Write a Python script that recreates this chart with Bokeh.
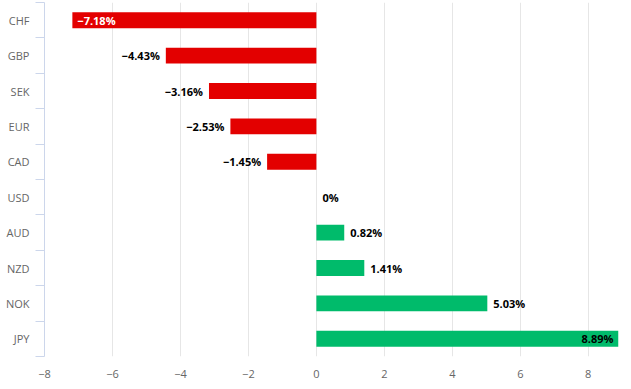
from bokeh.plotting import figure
from bokeh.models import ColumnDataSource, Range1d, FixedTicker
from bokeh.core.properties import value
from bokeh.embed import file_html
from bokeh.resources import INLINE

currencies = ["CHF", "GBP", "SEK", "EUR", "CAD", "USD", "AUD", "NZD", "NOK", "JPY"]
changes = [-7.18, -4.43, -3.16, -2.53, -1.45, 0, 0.82, 1.41, 5.03, 8.89]
x_ticks = [-8, -6, -4, -2, 0, 2, 4, 6, 8]

X_MIN, X_MAX = -8, 8.89
RED, GREEN = "#e30000", "#00bb6b"
FONT = "Open Sans"

n = len(currencies)
idx = list(range(n))


def fmt(v):
    s = f"{abs(v):.2f}".rstrip("0").rstrip(".") if v != 0 else "0"
    return ("\u2212" if v < 0 else "") + s + "%"


labels, aligns, offs, tcols = [], [], [], []
for v in changes:
    inside = (v - X_MIN) < 1.2 or (X_MAX - v) < 1.2
    labels.append(fmt(v))
    if v < 0:
        if inside:
            aligns.append("left"); offs.append(5); tcols.append("#ffffff")
        else:
            aligns.append("right"); offs.append(-6); tcols.append("#000000")
    else:
        if inside:
            aligns.append("right"); offs.append(-5); tcols.append("#000000")
        else:
            aligns.append("left"); offs.append(6); tcols.append("#000000")

src = ColumnDataSource(dict(
    idx=idx, value=changes, color=[RED if v < 0 else GREEN for v in changes],
    label=labels, align=aligns, xoff=offs, tcol=tcols,
))

p = figure(width=631, height=389, output_backend="svg", toolbar_location=None,
           x_range=Range1d(X_MIN, X_MAX), y_range=Range1d(n - 0.5, -0.5),
           min_border_left=44, min_border_right=13, min_border_top=2, min_border_bottom=33)
p.styles = {"position": "absolute", "left": "0px", "top": "0px"}
p.outline_line_color = None
p.background_fill_color = "#ffffff"

p.hbar(y="idx", left=0, right="value", height=0.45, color="color", line_color=None, source=src)
p.text(x="value", y="idx", text="label", text_align="align", x_offset="xoff",
       text_color="tcol",
       text_font=value(FONT), text_font_style="bold", text_font_size="11px",
       text_baseline="middle", source=src)

# y axis (categories)
p.yaxis.ticker = FixedTicker(ticks=idx, minor_ticks=[i - 0.5 for i in idx] + [n - 0.5])
p.yaxis.major_label_overrides = {i: c for i, c in zip(idx, currencies)}
p.yaxis.major_tick_out = 0
p.yaxis.major_tick_in = 0
p.yaxis.minor_tick_out = 9
p.yaxis.minor_tick_in = 0
p.yaxis.minor_tick_line_color = "#ccd6eb"
p.yaxis.axis_line_color = "#ccd6eb"
p.yaxis.major_label_standoff = 6
p.yaxis.major_label_text_font = FONT
p.yaxis.major_label_text_font_size = "11px"
p.yaxis.major_label_text_color = "#666666"

# x axis (values)
p.xaxis.ticker = FixedTicker(ticks=x_ticks)
p.xaxis.major_label_overrides = {t: (("\u2212" + str(abs(t))) if t < 0 else str(t)) for t in x_ticks}
p.xaxis.axis_line_color = None
p.xaxis.major_tick_line_color = None
p.xaxis.minor_tick_line_color = None
p.xaxis.major_label_standoff = 7
p.xaxis.major_label_text_font = FONT
p.xaxis.major_label_text_font_size = "11px"
p.xaxis.major_label_text_color = "#666666"

p.ygrid.visible = False
p.xgrid.grid_line_color = "#e6e6e6"

open("out.html", "w").write(file_html(p, INLINE))
